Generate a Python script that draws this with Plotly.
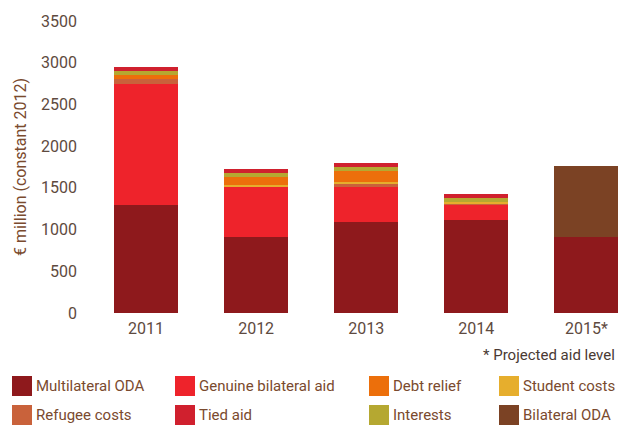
import plotly.graph_objects as go

# Dados (€ milhões, preços constantes de 2012)
years = ["2011", "2012", "2013", "2014", "2015*"]

multilateral = [1290, 910, 1090, 1110, 910]
genuine_bilateral = [1460, 610, 420, 190, 0]
refugee_costs = [50, 0, 36, 12, 0]
student_costs = [0, 15, 24, 24, 0]
debt_relief = [48, 96, 132, 0, 0]
interests = [48, 48, 48, 48, 0]
tied_aid = [48, 48, 48, 48, 0]
bilateral_oda = [0, 0, 0, 0, 850]

y_ticks = [0, 500, 1000, 1500, 2000, 2500, 3000, 3500]

FONT = "Roboto, Liberation Sans, sans-serif"
TXT = "#7a4a2e"
TICK = "#5e4a40"

# ordem de empilhamento (de baixo para cima)
series = [
    ("Multilateral ODA", multilateral, "#8e191c"),
    ("Genuine bilateral aid", genuine_bilateral, "#ee232b"),
    ("Refugee costs", refugee_costs, "#c9623b"),
    ("Student costs", student_costs, "#e6ae2d"),
    ("Debt relief", debt_relief, "#ec6f0b"),
    ("Interests", interests, "#b5a831"),
    ("Tied aid", tied_aid, "#d0202e"),
    ("Bilateral ODA", bilateral_oda, "#7b4224"),
]

fig = go.Figure()
for name, vals, col in series:
    fig.add_trace(go.Bar(
        x=years, y=vals, name=name,
        marker=dict(color=col, line=dict(width=0)),
        showlegend=False,
    ))

# a página tem margem de 8px: a figura começa em (8, 8)
fig.update_layout(
    barmode="stack",
    bargap=0.42,
    width=618, height=417,
    margin=dict(l=72, r=0, t=13, b=112),
    paper_bgcolor="white", plot_bgcolor="white",
    font=dict(family=FONT, size=16, color=TICK),
)
fig.update_xaxes(range=[-0.6, 4.36], showgrid=False, showline=False,
                 ticks="", automargin=False, ticklabelstandoff=4,
                 tickfont=dict(size=16, color=TICK))
fig.update_yaxes(range=[0, 3500], tickvals=y_ticks, showgrid=False,
                 zeroline=False, showline=False, ticks="", automargin=False,
                 tickfont=dict(size=16, color=TICK), ticklabelstandoff=2,
                 title=dict(text="€ million (constant 2012)",
                            font=dict(size=16, color=TXT), standoff=10))


def px_x(px):
    return (px - 80) / 546


def px_y(py):
    return (313 - py) / 292


fig.add_annotation(x=px_x(617), y=px_y(355), xref="paper", yref="paper",
                   yanchor="middle", xanchor="right", showarrow=False,
                   text="* Projected aid level",
                   font=dict(size=15, color="#4a3a33"))

# legenda manual em 4 colunas x 2 linhas
legend_layout = [
    ("Multilateral ODA", 12, 386), ("Genuine bilateral aid", 175, 386),
    ("Debt relief", 369, 386), ("Student costs", 499, 386),
    ("Refugee costs", 12, 415), ("Tied aid", 175, 415),
    ("Interests", 369, 415), ("Bilateral ODA", 499, 415),
]
colors = {name: col for name, _, col in series}
for name, px, py in legend_layout:
    fig.add_shape(type="rect", xref="paper", yref="paper",
                  x0=px_x(px), x1=px_x(px + 20),
                  y0=px_y(py + 10), y1=px_y(py - 10),
                  fillcolor=colors[name], line=dict(width=0))
    fig.add_annotation(xref="paper", yref="paper",
                       x=px_x(px + 22), y=px_y(py),
                       xanchor="left", yanchor="middle", showarrow=False,
                       text=name, font=dict(size=15, color=TXT))

fig.write_html("out.html")
